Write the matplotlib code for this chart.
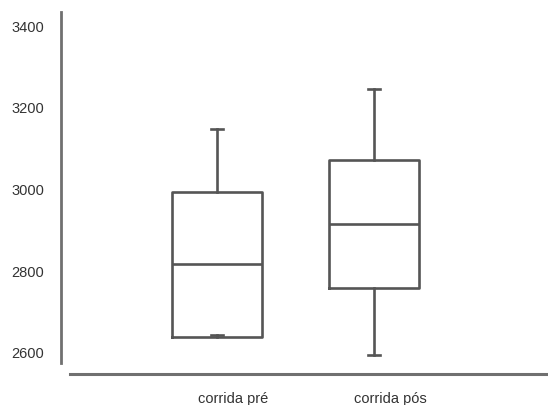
import matplotlib
matplotlib.use("Agg")
import matplotlib.pyplot as plt
import matplotlib.transforms as mtransforms

# Summary statistics for each group
categories = ["corrida pré", "corrida pós"]
whisker_low = [2645, 2595]
q1 = [2639, 2759]
median = [2818, 2916]
q3 = [2994, 3072]
whisker_high = [3148, 3246]
y_ticks = [2600, 2800, 3000, 3200, 3400]

plt.rcParams["font.family"] = ["Liberation Sans", "DejaVu Sans"]

fig = plt.figure(figsize=(5.48, 4.05), dpi=100)
ax = fig.add_axes([61 / 548, 1 - 374 / 405, 1 - 61 / 548, (374 - 12) / 405])

stats = []
for name, lo, a, m, b, hi in zip(categories, whisker_low, q1, median, q3, whisker_high):
    stats.append({"label": name, "whislo": lo, "q1": a, "med": m,
                  "q3": b, "whishi": hi, "fliers": []})

line_col = "#555555"
ax.bxp(stats, positions=[1, 2], widths=0.567, showfliers=False,
       boxprops=dict(color=line_col, linewidth=1.9),
       medianprops=dict(color=line_col, linewidth=1.9),
       whiskerprops=dict(color=line_col, linewidth=1.9),
       capprops=dict(color=line_col, linewidth=1.9),
       capwidths=0.08)

y0 = 2600 - 21 / 81.75 * 200
y1 = 2600 + 341 / 81.75 * 200
ax.set_ylim(y0, y1)
ax.set_xlim(1 - 156 / 157, 2 + 174 / 157)

for s in ["top", "right"]:
    ax.spines[s].set_visible(False)
axis_col = "#707070"
ax.spines["left"].set_color(axis_col)
ax.spines["left"].set_linewidth(2)
ax.spines["left"].set_bounds(2600 - 10 / 81.75 * 200, y1)
ax.spines["bottom"].set_color(axis_col)
ax.spines["bottom"].set_linewidth(2.2)
ax.spines["bottom"].set_bounds(1 - 147 / 157, 2 + 174 / 157)

ax.set_yticks(y_ticks)
ax.set_yticklabels([str(v) for v in y_ticks])
ax.set_xticks([1, 2])
ax.set_xticklabels(categories)
ax.tick_params(axis="both", length=0, labelsize=10.5, labelcolor="#333333")
ax.tick_params(axis="y", pad=12)
ax.tick_params(axis="x", pad=13)

shift = mtransforms.ScaledTranslation(16 / 100, 0, fig.dpi_scale_trans)
for lab in ax.get_xticklabels():
    lab.set_transform(lab.get_transform() + shift)

fig.savefig("out.png", dpi=100)
